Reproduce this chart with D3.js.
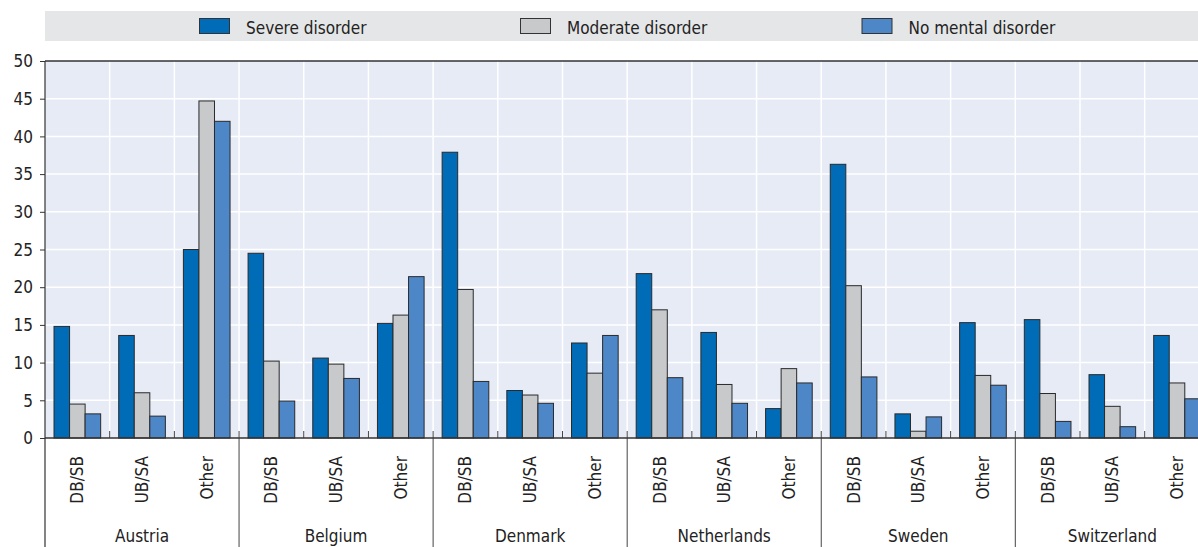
<!DOCTYPE html>
<html>
<head>
<meta charset="utf-8">
<script src="https://cdn.jsdelivr.net/npm/d3@7"></script>
<style>
  html, body { margin: 0; padding: 0; background: #fff; }
  svg { display: block; }
  text { font-family: "Liberation Sans Narrow", "Arial Narrow", "DejaVu Sans Condensed", sans-serif; fill: #222; }
</style>
</head>
<body>
<script>
// Benefit type by country, share (%) by mental health status
const countries = ["Austria", "Belgium", "Denmark", "Netherlands", "Sweden", "Switzerland"];
const benefitTypes = ["DB/SB", "UB/SA", "Other"];
const seriesNames = ["Severe disorder", "Moderate disorder", "No mental disorder"];

// values per country, in benefit-type order
const severe = [
  [14.8, 13.6, 25.0],
  [24.5, 10.6, 15.2],
  [37.9, 6.3, 12.6],
  [21.8, 14.0, 3.9],
  [36.3, 3.2, 15.3],
  [15.7, 8.4, 13.6]
];
const moderate = [
  [4.5, 6.0, 44.7],
  [10.2, 9.8, 16.3],
  [19.7, 5.7, 8.6],
  [17.0, 7.1, 9.2],
  [20.2, 0.9, 8.3],
  [5.9, 4.2, 7.3]
];
const noDisorder = [
  [3.2, 2.9, 42.0],
  [4.9, 7.9, 21.4],
  [7.5, 4.6, 13.6],
  [8.0, 4.6, 7.3],
  [8.1, 2.8, 7.0],
  [2.2, 1.5, 5.2]
];
const yTicks = [0, 5, 10, 15, 20, 25, 30, 35, 40, 45, 50];

const colors = ["#006BB6", "#C8C9CB", "#4E87C8"];
const allSeries = [severe, moderate, noDisorder];

const W = 1198, H = 547;
const plot = { left: 45, top: 61, bottom: 438 };
const groupW = 194.06;
const plotRight = plot.left + groupW * countries.length;

const svg = d3.select("body").append("svg").attr("width", W).attr("height", H);

// flattened categories: country|benefit
const cats = [];
countries.forEach(c => benefitTypes.forEach(b => cats.push(c + "|" + b)));

const x = d3.scaleBand().domain(cats).range([plot.left, plotRight]).padding(0);
const xc = d3.scaleBand().domain(countries).range([plot.left, plotRight]).padding(0);
const xs = d3.scaleBand().domain(seriesNames).range([0, x.bandwidth()]).paddingInner(0).paddingOuter(0.58);
const y = d3.scaleLinear().domain([0, 50]).range([plot.bottom, plot.top]);

// plot background
svg.append("rect")
  .attr("x", plot.left).attr("y", plot.top)
  .attr("width", plotRight - plot.left).attr("height", plot.bottom - plot.top)
  .attr("fill", "#E6EBF6");

// horizontal grid
svg.append("g").selectAll("line").data(yTicks.filter(d => d > 0 && d < 50)).join("line")
  .attr("x1", plot.left).attr("x2", plotRight)
  .attr("y1", d => y(d)).attr("y2", d => y(d))
  .attr("stroke", "#fff").attr("stroke-width", 1.5);

// vertical grid at category boundaries
svg.append("g").selectAll("line").data(cats.slice(1)).join("line")
  .attr("x1", d => x(d)).attr("x2", d => x(d))
  .attr("y1", plot.top).attr("y2", plot.bottom)
  .attr("stroke", "#fff").attr("stroke-width", 1.5);

// legend band
svg.append("rect").attr("x", 45).attr("y", 11).attr("width", W - 45).attr("height", 30).attr("fill", "#E5E6E7");
const legendX = [199, 520, 861.5];
const lg = svg.append("g").selectAll("g").data(seriesNames).join("g")
  .attr("transform", (d, i) => `translate(${legendX[i]},18)`);
lg.append("rect").attr("x", 0.5).attr("y", 0.5).attr("width", 30).attr("height", 15)
  .attr("fill", (d, i) => colors[i]).attr("stroke", "#333").attr("stroke-width", 1);
lg.append("text").attr("x", 47).attr("y", 15.5).attr("font-size", 17).text(d => d);

// bars
const barData = [];
countries.forEach((c, ci) => benefitTypes.forEach((b, bi) => seriesNames.forEach((s, si) => {
  barData.push({ cat: c + "|" + b, series: s, si, value: allSeries[si][ci][bi] });
})));
svg.append("g").selectAll("rect").data(barData).join("rect")
  .attr("x", d => x(d.cat) + xs(d.series))
  .attr("y", d => y(d.value))
  .attr("width", xs.bandwidth())
  .attr("height", d => y(0) - y(d.value))
  .attr("fill", d => colors[d.si])
  .attr("stroke", "#2a2a2a").attr("stroke-width", 1);

// y axis
const yAxis = d3.axisLeft(y).tickValues(yTicks).tickSize(5).tickPadding(7);
const gy = svg.append("g").attr("transform", `translate(${plot.left},0)`).call(yAxis);
gy.select(".domain").remove();
gy.selectAll(".tick line").attr("stroke", "#333");
gy.selectAll(".tick text").attr("font-size", 17).attr("dy", "0.34em")
  .style("font-family", "\"Liberation Sans Narrow\", \"Arial Narrow\", \"DejaVu Sans Condensed\", sans-serif").attr("fill", "#222");

// frame: top and left edges, baseline
svg.append("line").attr("x1", plot.left).attr("x2", plotRight).attr("y1", plot.top).attr("y2", plot.top)
  .attr("stroke", "#333").attr("stroke-width", 1.5);
svg.append("line").attr("x1", plot.left).attr("x2", plot.left).attr("y1", plot.top).attr("y2", H)
  .attr("stroke", "#333").attr("stroke-width", 1.2);

// minor ticks between benefit types
svg.append("g").selectAll("line").data(cats.filter((d, i) => i % 3 !== 0)).join("line")
  .attr("x1", d => x(d)).attr("x2", d => x(d))
  .attr("y1", plot.bottom - 7).attr("y2", plot.bottom)
  .attr("stroke", "#444").attr("stroke-width", 1);

// country separators extend below the axis
svg.append("g").selectAll("line").data(countries.slice(1)).join("line")
  .attr("x1", d => xc(d)).attr("x2", d => xc(d))
  .attr("y1", plot.bottom - 7).attr("y2", H)
  .attr("stroke", "#444").attr("stroke-width", 1);

svg.append("line").attr("x1", plot.left).attr("x2", plotRight).attr("y1", plot.bottom).attr("y2", plot.bottom)
  .attr("stroke", "#333").attr("stroke-width", 1.5);

// benefit type labels (rotated)
svg.append("g").selectAll("text").data(cats).join("text")
  .attr("transform", d => `translate(${x(d) + x.bandwidth() / 2 + 6},456) rotate(-90)`)
  .attr("text-anchor", "end")
  .attr("font-size", 17)
  .text(d => d.split("|")[1]);

// country labels
svg.append("g").selectAll("text").data(countries).join("text")
  .attr("x", d => xc(d) + xc.bandwidth() / 2)
  .attr("y", 542)
  .attr("text-anchor", "middle")
  .attr("font-size", 17)
  .text(d => d);
</script>
</body>
</html>
